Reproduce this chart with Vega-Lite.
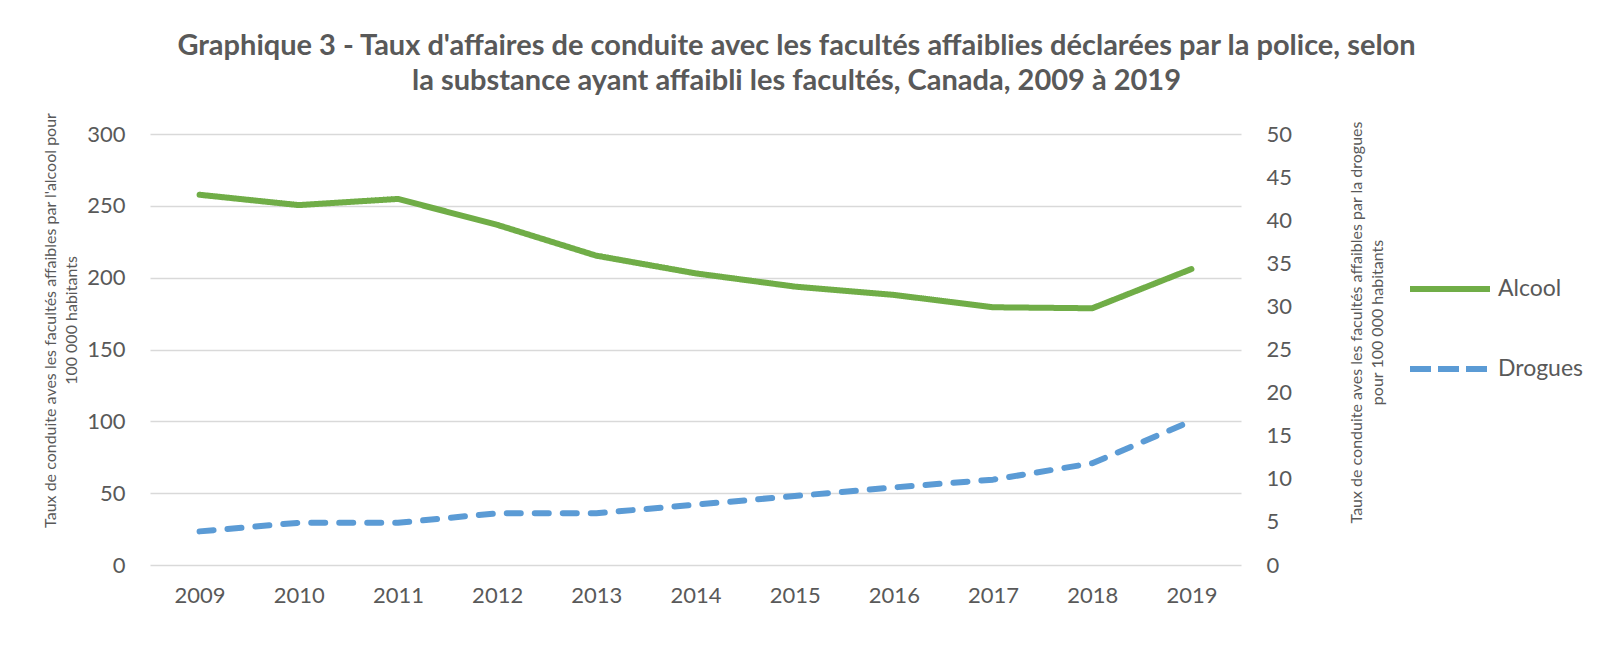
{
  "$schema": "https://vega.github.io/schema/vega-lite/v6.json",
  "width": 1091,
  "height": 431,
  "autosize": {"type": "none"},
  "padding": {"left": 150, "top": 134, "right": 374, "bottom": 81},
  "background": "white",
  "config": {"font": "Lato", "view": {"stroke": null}},
  "title": {
    "text": ["Graphique 3 - Taux d'affaires de conduite avec les facultés affaiblies déclarées par la police, selon", "la substance ayant affaibli les facultés, Canada, 2009 à 2019"],
    "font": "Lato", "fontSize": 29, "fontWeight": "bold", "color": "#595959",
    "anchor": "middle", "frame": "group", "dx": 101, "dy": 14, "lineHeight": 35, "offset": 30
  },
  "data": {"values": [
    {"annee": "2009", "serie": "Alcool", "taux": 257.7},
    {"annee": "2010", "serie": "Alcool", "taux": 250.5},
    {"annee": "2011", "serie": "Alcool", "taux": 254.8},
    {"annee": "2012", "serie": "Alcool", "taux": 236.8},
    {"annee": "2013", "serie": "Alcool", "taux": 215.3},
    {"annee": "2014", "serie": "Alcool", "taux": 203.0},
    {"annee": "2015", "serie": "Alcool", "taux": 193.8},
    {"annee": "2016", "serie": "Alcool", "taux": 188.0},
    {"annee": "2017", "serie": "Alcool", "taux": 179.4},
    {"annee": "2018", "serie": "Alcool", "taux": 178.7},
    {"annee": "2019", "serie": "Alcool", "taux": 206.0},
    {"annee": "2009", "serie": "Drogues", "taux": 3.9},
    {"annee": "2010", "serie": "Drogues", "taux": 4.9},
    {"annee": "2011", "serie": "Drogues", "taux": 4.9},
    {"annee": "2012", "serie": "Drogues", "taux": 6.0},
    {"annee": "2013", "serie": "Drogues", "taux": 6.0},
    {"annee": "2014", "serie": "Drogues", "taux": 7.0},
    {"annee": "2015", "serie": "Drogues", "taux": 8.0},
    {"annee": "2016", "serie": "Drogues", "taux": 9.0},
    {"annee": "2017", "serie": "Drogues", "taux": 9.9},
    {"annee": "2018", "serie": "Drogues", "taux": 11.8},
    {"annee": "2019", "serie": "Drogues", "taux": 16.7}
  ]},
  "encoding": {
    "x": {
      "field": "annee", "type": "ordinal",
      "scale": {"type": "point", "padding": 0.5},
      "axis": {"title": null, "labelAngle": 0, "domain": false, "ticks": false, "labelPadding": 20, "labelFontSize": 22, "labelColor": "#595959", "grid": false}
    },
    "color": {
      "field": "serie", "type": "nominal",
      "scale": {"domain": ["Alcool", "Drogues"], "range": ["#70AD47", "#5B9BD5"]},
      "legend": {
        "title": null, "orient": "none", "legendX": 1257, "legendY": 112,
        "symbolType": "stroke", "symbolSize": 6400, "symbolStrokeWidth": 6,
        "labelFontSize": 23, "labelColor": "#595959", "labelOffset": 5, "rowPadding": 25
      }
    },
    "strokeDash": {
      "field": "serie", "type": "nominal",
      "scale": {"domain": ["Alcool", "Drogues"], "range": [[1, 0], [21, 7]]},
      "legend": {
        "title": null, "orient": "none", "legendX": 1257, "legendY": 112,
        "symbolType": "stroke", "symbolSize": 6400, "symbolStrokeWidth": 6,
        "labelFontSize": 23, "labelColor": "#595959", "labelOffset": 5, "rowPadding": 25
      }
    }
  },
  "layer": [
    {
      "transform": [{"filter": "datum.serie === 'Alcool'"}],
      "mark": {"type": "line", "strokeWidth": 6, "strokeCap": "round", "strokeJoin": "round"},
      "encoding": {
        "y": {
          "field": "taux", "type": "quantitative",
          "scale": {"domain": [0, 300]},
          "axis": {
            "orient": "left", "values": [0, 50, 100, 150, 200, 250, 300],
            "grid": true, "gridColor": "#D9D9D9", "gridWidth": 1.5,
            "domain": false, "ticks": false, "labelPadding": 25, "labelFontSize": 22, "labelColor": "#595959",
            "title": ["Taux de conduite aves les facultés affaibles par l'alcool pour", "100 000 habitants"],
            "titleFontSize": 16, "titleFontWeight": "normal", "titleColor": "#595959",
            "titleAngle": -90, "titleX": -100, "titleY": 186, "titleAlign": "center", "titleBaseline": "middle", "titleLineHeight": 21
          }
        }
      }
    },
    {
      "transform": [{"filter": "datum.serie === 'Drogues'"}],
      "mark": {"type": "line", "strokeWidth": 6, "strokeCap": "round", "strokeJoin": "round"},
      "encoding": {
        "strokeDash": {"value": [14, 14]},
        "y": {
          "field": "taux", "type": "quantitative",
          "scale": {"domain": [0, 50]},
          "axis": {
            "orient": "right", "values": [0, 5, 10, 15, 20, 25, 30, 35, 40, 45, 50],
            "grid": false, "domain": false, "ticks": false, "labelPadding": 25, "labelFontSize": 22, "labelColor": "#595959",
            "title": ["Taux de conduite aves les facultés affaibles par la drogues", "pour 100 000 habitants"],
            "titleFontSize": 16, "titleFontWeight": "normal", "titleColor": "#595959",
            "titleAngle": -90, "titleX": 115, "titleY": 188, "titleAlign": "center", "titleBaseline": "middle", "titleLineHeight": 21
          }
        }
      }
    }
  ],
  "resolve": {"scale": {"y": "independent"}, "axis": {"y": "independent"}}
}
